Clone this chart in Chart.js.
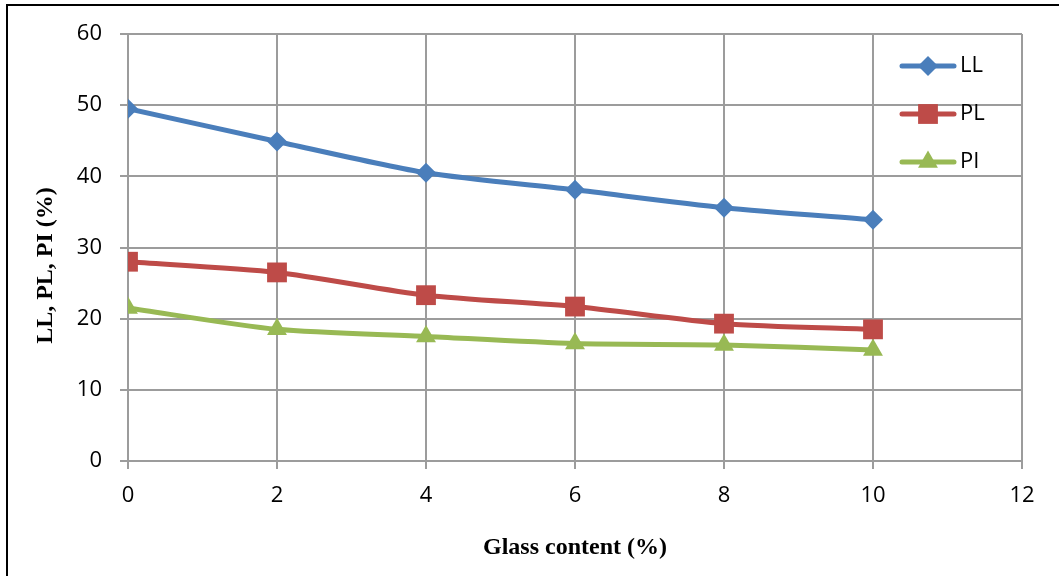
<!DOCTYPE html>
<html>
<head>
<meta charset="utf-8">
<script src="https://cdn.jsdelivr.net/npm/chart.js@4"></script>
<style>
  html, body { margin: 0; padding: 0; background: #fff; }
  #wrap { position: relative; width: 1059px; height: 576px; }
</style>
</head>
<body>
<div id="wrap"><canvas id="chartGlass"></canvas></div>
<script>
const glassContent = [0, 2, 4, 6, 8, 10];
const llValues = [49.5, 44.9, 40.5, 38.1, 35.6, 33.9];
const plValues = [28.0, 26.5, 23.3, 21.7, 19.3, 18.5];
const piValues = [21.5, 18.5, 17.5, 16.5, 16.3, 15.6];
const xTicks = [0, 2, 4, 6, 8, 10, 12];
const yTicks = [0, 10, 20, 30, 40, 50, 60];

const GRID = '#9c9c9c';
const tickFont = { family: '"Open Sans", sans-serif', size: 22 };
const titleFont = { family: '"Liberation Serif", "Times New Roman", serif', size: 24, weight: 'bold' };

function toPoints(values) {
  return glassContent.map((x, i) => ({ x, y: values[i] }));
}

function series(label, values, color, pointStyle, radius) {
  return {
    label,
    data: toPoints(values),
    borderColor: color,
    backgroundColor: color,
    borderWidth: 5,
    pointStyle,
    pointRadius: radius,
    pointHoverRadius: radius,
    pointBorderWidth: 0,
    tension: 0.25,
  };
}

// legend drawn inside the plot, line + marker like the original
const insideLegend = {
  id: 'insideLegend',
  afterDatasetsDraw(chart) {
    const ctx = chart.ctx;
    chart.data.datasets.forEach((ds, i) => {
      const y = 66 + i * 48;
      ctx.save();
      ctx.strokeStyle = ds.borderColor;
      ctx.lineWidth = 5;
      ctx.lineCap = 'round';
      ctx.beginPath();
      ctx.moveTo(902, y);
      ctx.lineTo(954, y);
      ctx.stroke();
      ctx.fillStyle = ds.backgroundColor;
      Chart.helpers.drawPoint(ctx, {
        pointStyle: ds.pointStyle,
        radius: ds.pointRadius,
        borderWidth: 0,
      }, 928, y);
      ctx.fillStyle = '#000';
      ctx.font = `${tickFont.size}px ${tickFont.family}`;
      ctx.textAlign = 'left';
      ctx.textBaseline = 'middle';
      ctx.fillText(ds.label, 960, y);
      ctx.restore();
    });
  },
};

// black frame on the left and top edges
const frame = {
  id: 'frame',
  afterDraw(chart) {
    const ctx = chart.ctx;
    ctx.save();
    ctx.strokeStyle = '#000';
    ctx.lineWidth = 2;
    ctx.beginPath();
    ctx.moveTo(7, 576);
    ctx.lineTo(7, 5);
    ctx.lineTo(1059, 5);
    ctx.stroke();
    ctx.restore();
  },
};

const ctx = document.getElementById('chartGlass').getContext('2d');
new Chart(ctx, {
  type: 'line',
  data: {
    datasets: [
      series('LL', llValues, '#4A7EBB', 'rectRot', 10),
      series('PL', plValues, '#BE4B48', 'rect', 14),
      series('PI', piValues, '#98B954', 'triangle', 11.5),
    ],
  },
  options: {
    responsive: true,
    maintainAspectRatio: false,
    animation: false,
    layout: { padding: { top: 34, right: 37, left: 0, bottom: 0 } },
    scales: {
      x: {
        type: 'linear',
        min: 0,
        max: 12,
        afterBuildTicks: (scale) => { scale.ticks = xTicks.map((v) => ({ value: v })); },
        afterFit: (scale) => { scale.height = 115; },
        grid: { color: GRID, lineWidth: 2, tickLength: 8, tickColor: GRID },
        border: { color: GRID, width: 2 },
        ticks: { color: '#000', font: tickFont, padding: 14, maxRotation: 0 },
        title: { display: true, text: 'Glass content (%)', color: '#000', font: titleFont, padding: { bottom: 14 } },
      },
      y: {
        min: 0,
        max: 60,
        afterBuildTicks: (scale) => { scale.ticks = yTicks.map((v) => ({ value: v })); },
        afterFit: (scale) => { scale.width = 128; },
        grid: { color: GRID, lineWidth: 2, tickLength: 8, tickColor: GRID },
        border: { color: GRID, width: 2 },
        ticks: { color: '#000', font: tickFont, padding: 18 },
        title: { display: true, text: 'LL, PL, PI (%)\u00a0\u00a0\u00a0\u00a0\u00a0\u00a0', color: '#000', font: titleFont, padding: { top: 31 } },
      },
    },
    plugins: {
      legend: { display: false },
      tooltip: { enabled: false },
    },
  },
  plugins: [insideLegend, frame],
});
</script>
</body>
</html>
